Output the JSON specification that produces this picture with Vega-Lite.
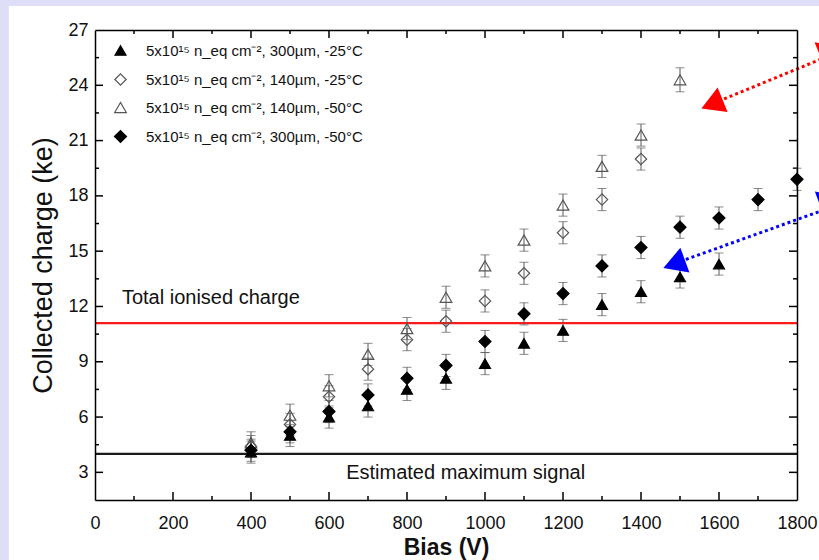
{
  "$schema": "https://vega.github.io/schema/vega-lite/v6.json",
  "width": 702,
  "height": 470,
  "autosize": {"type": "none"},
  "padding": {"left": 95, "top": 30, "right": 22, "bottom": 60},
  "background": "#DEDEF9",
  "config": {
    "view": {"stroke": null},
    "axis": {
      "grid": false,
      "domainColor": "#000000",
      "domainWidth": 1.5,
      "labelFont": "Liberation Sans",
      "labelFontSize": 18,
      "labelColor": "#111111",
      "titleFont": "Liberation Sans",
      "titleColor": "#111111"
    },
    "legend": {
      "orient": "none",
      "legendX": 18,
      "legendY": 13,
      "padding": 0,
      "labelFont": "Liberation Sans",
      "labelFontSize": 15,
      "labelColor": "#111111",
      "labelOffset": 18,
      "labelLimit": 500,
      "rowPadding": 12,
      "symbolStrokeWidth": 1.2
    }
  },
  "resolve": {"axis": {"x": "independent", "y": "independent"}},
  "layer": [
    {
      "data": {"values": [{"x1": -221, "x2": 2300, "y1": 28.3, "y2": -10}]},
      "mark": {"type": "rect", "fill": "#FFFFFF", "clip": false},
      "encoding": {
        "x": {"field": "x1", "type": "quantitative", "scale": {"domain": [0, 1800], "nice": false, "zero": false},
          "axis": {"orient": "bottom", "zindex": 2, "values": [0,200,400,600,800,1000,1200,1400,1600,1800],
            "format": "d", "ticks": false, "tickSize": 0,
            "labelPadding": 14, "labelOverlap": false, "labelFlush": false, "labelBound": false,
            "title": "Bias (V)", "titleFontSize": 23, "titleFontWeight": "bold", "titlePadding": 4}},
        "x2": {"field": "x2"},
        "y": {"field": "y1", "type": "quantitative", "scale": {"domain": [1.5, 27], "nice": false, "zero": false},
          "axis": {"orient": "left", "zindex": 2, "values": [3,6,9,12,15,18,21,24,27],
            "format": "d", "ticks": false, "tickSize": 0,
            "labelPadding": 7, "labelOverlap": false, "labelFlush": false, "labelBound": false,
            "title": "Collected charge (ke)", "titleFontSize": 27, "titleFontWeight": "normal", "titlePadding": 10}},
        "y2": {"field": "y2"}
      }
    },
    {
      "data": {"values": [{"x1": 0, "y1": 1.5}]},
      "mark": {"type": "point", "opacity": 0},
      "encoding": {
        "x": {"field": "x1", "type": "quantitative", "scale": {"domain": [0, 1800], "nice": false, "zero": false},
          "axis": {"orient": "top", "zindex": 2, "values": [0], "labels": false, "title": null, "ticks": false}},
        "y": {"field": "y1", "type": "quantitative", "scale": {"domain": [1.5, 27], "nice": false, "zero": false},
          "axis": {"orient": "right", "zindex": 2, "values": [3], "labels": false, "title": null, "ticks": false}}
      }
    },
    {
      "data": {"name": "xmaj"},
      "mark": {"type": "tick", "orient": "vertical", "color": "#000000", "size": 8, "thickness": 1.5, "opacity": 1},
      "encoding": {
        "x": {"field": "v", "type": "quantitative", "scale": {"domain": [0, 1800], "nice": false, "zero": false}, "axis": null},
        "y": {"datum": 1.717, "type": "quantitative", "scale": {"domain": [1.5, 27], "nice": false, "zero": false}, "axis": null}
      }
    },
    {
      "data": {"name": "xmin"},
      "mark": {"type": "tick", "orient": "vertical", "color": "#000000", "size": 4, "thickness": 1.5, "opacity": 1},
      "encoding": {
        "x": {"field": "v", "type": "quantitative", "scale": {"domain": [0, 1800], "nice": false, "zero": false}, "axis": null},
        "y": {"datum": 1.609, "type": "quantitative", "scale": {"domain": [1.5, 27], "nice": false, "zero": false}, "axis": null}
      }
    },
    {
      "data": {"name": "xmaj"},
      "mark": {"type": "tick", "orient": "vertical", "color": "#000000", "size": 8, "thickness": 1.5, "opacity": 1},
      "encoding": {
        "x": {"field": "v", "type": "quantitative", "scale": {"domain": [0, 1800], "nice": false, "zero": false}, "axis": null},
        "y": {"datum": 26.783, "type": "quantitative", "scale": {"domain": [1.5, 27], "nice": false, "zero": false}, "axis": null}
      }
    },
    {
      "data": {"name": "xmin"},
      "mark": {"type": "tick", "orient": "vertical", "color": "#000000", "size": 4, "thickness": 1.5, "opacity": 1},
      "encoding": {
        "x": {"field": "v", "type": "quantitative", "scale": {"domain": [0, 1800], "nice": false, "zero": false}, "axis": null},
        "y": {"datum": 26.891, "type": "quantitative", "scale": {"domain": [1.5, 27], "nice": false, "zero": false}, "axis": null}
      }
    },
    {
      "data": {"name": "ymaj"},
      "mark": {"type": "tick", "orient": "horizontal", "color": "#000000", "size": 8, "thickness": 1.5, "opacity": 1},
      "encoding": {
        "y": {"field": "v", "type": "quantitative", "scale": {"domain": [1.5, 27], "nice": false, "zero": false}, "axis": null},
        "x": {"datum": 10.26, "type": "quantitative", "scale": {"domain": [0, 1800], "nice": false, "zero": false}, "axis": null}
      }
    },
    {
      "data": {"name": "ymin"},
      "mark": {"type": "tick", "orient": "horizontal", "color": "#000000", "size": 4, "thickness": 1.5, "opacity": 1},
      "encoding": {
        "y": {"field": "v", "type": "quantitative", "scale": {"domain": [1.5, 27], "nice": false, "zero": false}, "axis": null},
        "x": {"datum": 5.13, "type": "quantitative", "scale": {"domain": [0, 1800], "nice": false, "zero": false}, "axis": null}
      }
    },
    {
      "data": {"name": "ymaj"},
      "mark": {"type": "tick", "orient": "horizontal", "color": "#000000", "size": 8, "thickness": 1.5, "opacity": 1},
      "encoding": {
        "y": {"field": "v", "type": "quantitative", "scale": {"domain": [1.5, 27], "nice": false, "zero": false}, "axis": null},
        "x": {"datum": 1789.74, "type": "quantitative", "scale": {"domain": [0, 1800], "nice": false, "zero": false}, "axis": null}
      }
    },
    {
      "data": {"name": "ymin"},
      "mark": {"type": "tick", "orient": "horizontal", "color": "#000000", "size": 4, "thickness": 1.5, "opacity": 1},
      "encoding": {
        "y": {"field": "v", "type": "quantitative", "scale": {"domain": [1.5, 27], "nice": false, "zero": false}, "axis": null},
        "x": {"datum": 1794.87, "type": "quantitative", "scale": {"domain": [0, 1800], "nice": false, "zero": false}, "axis": null}
      }
    },
    {
      "data": {"values": [{"level": 11.1}]},
      "mark": {"type": "rule", "color": "#FF1A1A", "strokeWidth": 2.2},
      "encoding": {"y": {"field": "level", "type": "quantitative", "scale": {"domain": [1.5, 27], "nice": false, "zero": false}, "axis": null}}
    },
    {
      "data": {"values": [{"level": 4.0}]},
      "mark": {"type": "rule", "color": "#1A1A1A", "strokeWidth": 2.2},
      "encoding": {"y": {"field": "level", "type": "quantitative", "scale": {"domain": [1.5, 27], "nice": false, "zero": false}, "axis": null}}
    },
    {
      "data": {"values": [{"label": "Total ionised charge", "x": 69, "y": 12.46}, {"label": "Estimated maximum signal", "x": 644, "y": 2.96}]},
      "mark": {"type": "text", "align": "left", "baseline": "middle", "font": "Liberation Sans", "fontSize": 20, "color": "#111111"},
      "encoding": {
        "x": {"field": "x", "type": "quantitative", "scale": {"domain": [0, 1800], "nice": false, "zero": false}, "axis": null},
        "y": {"field": "y", "type": "quantitative", "scale": {"domain": [1.5, 27], "nice": false, "zero": false}, "axis": null},
        "text": {"field": "label"}
      }
    },
    {
      "data": {"name": "pts"},
      "mark": {"type": "errorbar", "color": "#5A5A5A", "thickness": 1, "ticks": {"size": 9, "thickness": 1, "color": "#5A5A5A"}},
      "encoding": {
        "x": {"field": "bias", "type": "quantitative", "scale": {"domain": [0, 1800], "nice": false, "zero": false}, "axis": null},
        "y": {"field": "charge", "type": "quantitative", "scale": {"domain": [1.5, 27], "nice": false, "zero": false}, "axis": null},
        "yError": {"field": "err"},
        "detail": {"field": "series"}
      }
    },
    {
      "data": {"name": "pts"},
      "mark": {"type": "point", "strokeWidth": 1.2, "opacity": 1},
      "encoding": {
        "x": {"field": "bias", "type": "quantitative", "scale": {"domain": [0, 1800], "nice": false, "zero": false}, "axis": null},
        "y": {"field": "charge", "type": "quantitative", "scale": {"domain": [1.5, 27], "nice": false, "zero": false}, "axis": null},
        "shape": {"field": "series", "type": "nominal", "title": null,
          "scale": {"domain": ["5x10¹⁵ n_eq cm⁻², 300µm, -25°C", "5x10¹⁵ n_eq cm⁻², 140µm, -25°C", "5x10¹⁵ n_eq cm⁻², 140µm, -50°C", "5x10¹⁵ n_eq cm⁻², 300µm, -50°C"],
            "range": ["triangle-up", "diamond", "triangle-up", "diamond"]}},
        "fill": {"field": "series", "type": "nominal", "title": null,
          "scale": {"domain": ["5x10¹⁵ n_eq cm⁻², 300µm, -25°C", "5x10¹⁵ n_eq cm⁻², 140µm, -25°C", "5x10¹⁵ n_eq cm⁻², 140µm, -50°C", "5x10¹⁵ n_eq cm⁻², 300µm, -50°C"],
            "range": ["#000000", "transparent", "transparent", "#000000"]}},
        "stroke": {"field": "series", "type": "nominal", "title": null,
          "scale": {"domain": ["5x10¹⁵ n_eq cm⁻², 300µm, -25°C", "5x10¹⁵ n_eq cm⁻², 140µm, -25°C", "5x10¹⁵ n_eq cm⁻², 140µm, -50°C", "5x10¹⁵ n_eq cm⁻², 300µm, -50°C"],
            "range": ["#000000", "#555555", "#555555", "#000000"]}},
        "size": {"field": "series", "type": "nominal", "title": null,
          "scale": {"domain": ["5x10¹⁵ n_eq cm⁻², 300µm, -25°C", "5x10¹⁵ n_eq cm⁻², 140µm, -25°C", "5x10¹⁵ n_eq cm⁻², 140µm, -50°C", "5x10¹⁵ n_eq cm⁻², 300µm, -50°C"],
            "range": [120, 144, 120, 144]}}
      }
    },
    {
      "data": {"values": [{"x": 1910, "y": 25.84}, {"x": 1613, "y": 23.26}]},
      "mark": {"type": "line", "color": "#FF0000", "strokeWidth": 3, "strokeDash": [3, 3], "clip": false},
      "encoding": {
        "x": {"field": "x", "type": "quantitative", "scale": {"domain": [0, 1800], "nice": false, "zero": false}, "axis": null},
        "y": {"field": "y", "type": "quantitative", "scale": {"domain": [1.5, 27], "nice": false, "zero": false}, "axis": null}
      }
    },
    {
      "data": {"values": [{"x": 1582, "y": 22.98}]},
      "mark": {"type": "point", "shape": "triangle-up", "filled": true, "color": "#FF0000", "opacity": 1, "size": 700, "angle": 248, "clip": false},
      "encoding": {
        "x": {"field": "x", "type": "quantitative", "scale": {"domain": [0, 1800], "nice": false, "zero": false}, "axis": null},
        "y": {"field": "y", "type": "quantitative", "scale": {"domain": [1.5, 27], "nice": false, "zero": false}, "axis": null}
      }
    },
    {
      "data": {"values": [{"x": 1885, "y": 25.9}]},
      "mark": {"type": "point", "shape": "triangle-up", "filled": true, "color": "#FF0000", "opacity": 1, "size": 700, "angle": 68, "clip": false},
      "encoding": {
        "x": {"field": "x", "type": "quantitative", "scale": {"domain": [0, 1800], "nice": false, "zero": false}, "axis": null},
        "y": {"field": "y", "type": "quantitative", "scale": {"domain": [1.5, 27], "nice": false, "zero": false}, "axis": null}
      }
    },
    {
      "data": {"values": [{"x": 1910, "y": 17.55}, {"x": 1515, "y": 14.55}]},
      "mark": {"type": "line", "color": "#0000FF", "strokeWidth": 3, "strokeDash": [3, 3], "clip": false},
      "encoding": {
        "x": {"field": "x", "type": "quantitative", "scale": {"domain": [0, 1800], "nice": false, "zero": false}, "axis": null},
        "y": {"field": "y", "type": "quantitative", "scale": {"domain": [1.5, 27], "nice": false, "zero": false}, "axis": null}
      }
    },
    {
      "data": {"values": [{"x": 1485, "y": 14.3}]},
      "mark": {"type": "point", "shape": "triangle-up", "filled": true, "color": "#0000FF", "opacity": 1, "size": 700, "angle": 250, "clip": false},
      "encoding": {
        "x": {"field": "x", "type": "quantitative", "scale": {"domain": [0, 1800], "nice": false, "zero": false}, "axis": null},
        "y": {"field": "y", "type": "quantitative", "scale": {"domain": [1.5, 27], "nice": false, "zero": false}, "axis": null}
      }
    },
    {
      "data": {"values": [{"x": 1885, "y": 17.78}]},
      "mark": {"type": "point", "shape": "triangle-up", "filled": true, "color": "#0000FF", "opacity": 1, "size": 700, "angle": 70, "clip": false},
      "encoding": {
        "x": {"field": "x", "type": "quantitative", "scale": {"domain": [0, 1800], "nice": false, "zero": false}, "axis": null},
        "y": {"field": "y", "type": "quantitative", "scale": {"domain": [1.5, 27], "nice": false, "zero": false}, "axis": null}
      }
    }
  ],
  "datasets": {
    "xmaj": [{"v": 200}, {"v": 400}, {"v": 600}, {"v": 800}, {"v": 1000}, {"v": 1200}, {"v": 1400}, {"v": 1600}],
    "xmin": [{"v": 100}, {"v": 300}, {"v": 500}, {"v": 700}, {"v": 900}, {"v": 1100}, {"v": 1300}, {"v": 1500}, {"v": 1700}],
    "ymaj": [{"v": 3}, {"v": 6}, {"v": 9}, {"v": 12}, {"v": 15}, {"v": 18}, {"v": 21}, {"v": 24}],
    "ymin": [{"v": 4.5}, {"v": 7.5}, {"v": 10.5}, {"v": 13.5}, {"v": 16.5}, {"v": 19.5}, {"v": 22.5}, {"v": 25.5}],
    "pts": [
      {"series": "5x10¹⁵ n_eq cm⁻², 300µm, -25°C", "bias": 400, "charge": 4.1, "err": 0.6},
      {"series": "5x10¹⁵ n_eq cm⁻², 300µm, -25°C", "bias": 500, "charge": 5.0, "err": 0.6},
      {"series": "5x10¹⁵ n_eq cm⁻², 300µm, -25°C", "bias": 600, "charge": 6.0, "err": 0.6},
      {"series": "5x10¹⁵ n_eq cm⁻², 300µm, -25°C", "bias": 700, "charge": 6.6, "err": 0.6},
      {"series": "5x10¹⁵ n_eq cm⁻², 300µm, -25°C", "bias": 800, "charge": 7.5, "err": 0.6},
      {"series": "5x10¹⁵ n_eq cm⁻², 300µm, -25°C", "bias": 900, "charge": 8.1, "err": 0.6},
      {"series": "5x10¹⁵ n_eq cm⁻², 300µm, -25°C", "bias": 1000, "charge": 8.9, "err": 0.6},
      {"series": "5x10¹⁵ n_eq cm⁻², 300µm, -25°C", "bias": 1100, "charge": 10.0, "err": 0.6},
      {"series": "5x10¹⁵ n_eq cm⁻², 300µm, -25°C", "bias": 1200, "charge": 10.7, "err": 0.6},
      {"series": "5x10¹⁵ n_eq cm⁻², 300µm, -25°C", "bias": 1300, "charge": 12.1, "err": 0.6},
      {"series": "5x10¹⁵ n_eq cm⁻², 300µm, -25°C", "bias": 1400, "charge": 12.8, "err": 0.6},
      {"series": "5x10¹⁵ n_eq cm⁻², 300µm, -25°C", "bias": 1500, "charge": 13.6, "err": 0.6},
      {"series": "5x10¹⁵ n_eq cm⁻², 300µm, -25°C", "bias": 1600, "charge": 14.3, "err": 0.6},
      {"series": "5x10¹⁵ n_eq cm⁻², 140µm, -25°C", "bias": 400, "charge": 4.4, "err": 0.6},
      {"series": "5x10¹⁵ n_eq cm⁻², 140µm, -25°C", "bias": 500, "charge": 5.6, "err": 0.6},
      {"series": "5x10¹⁵ n_eq cm⁻², 140µm, -25°C", "bias": 600, "charge": 7.1, "err": 0.6},
      {"series": "5x10¹⁵ n_eq cm⁻², 140µm, -25°C", "bias": 700, "charge": 8.6, "err": 0.6},
      {"series": "5x10¹⁵ n_eq cm⁻², 140µm, -25°C", "bias": 800, "charge": 10.2, "err": 0.6},
      {"series": "5x10¹⁵ n_eq cm⁻², 140µm, -25°C", "bias": 900, "charge": 11.2, "err": 0.6},
      {"series": "5x10¹⁵ n_eq cm⁻², 140µm, -25°C", "bias": 1000, "charge": 12.3, "err": 0.6},
      {"series": "5x10¹⁵ n_eq cm⁻², 140µm, -25°C", "bias": 1100, "charge": 13.8, "err": 0.6},
      {"series": "5x10¹⁵ n_eq cm⁻², 140µm, -25°C", "bias": 1200, "charge": 16.0, "err": 0.6},
      {"series": "5x10¹⁵ n_eq cm⁻², 140µm, -25°C", "bias": 1300, "charge": 17.8, "err": 0.6},
      {"series": "5x10¹⁵ n_eq cm⁻², 140µm, -25°C", "bias": 1400, "charge": 20.0, "err": 0.6},
      {"series": "5x10¹⁵ n_eq cm⁻², 140µm, -50°C", "bias": 400, "charge": 4.6, "err": 0.6},
      {"series": "5x10¹⁵ n_eq cm⁻², 140µm, -50°C", "bias": 500, "charge": 6.1, "err": 0.6},
      {"series": "5x10¹⁵ n_eq cm⁻², 140µm, -50°C", "bias": 600, "charge": 7.7, "err": 0.6},
      {"series": "5x10¹⁵ n_eq cm⁻², 140µm, -50°C", "bias": 700, "charge": 9.4, "err": 0.6},
      {"series": "5x10¹⁵ n_eq cm⁻², 140µm, -50°C", "bias": 800, "charge": 10.8, "err": 0.6},
      {"series": "5x10¹⁵ n_eq cm⁻², 140µm, -50°C", "bias": 900, "charge": 12.5, "err": 0.6},
      {"series": "5x10¹⁵ n_eq cm⁻², 140µm, -50°C", "bias": 1000, "charge": 14.2, "err": 0.6},
      {"series": "5x10¹⁵ n_eq cm⁻², 140µm, -50°C", "bias": 1100, "charge": 15.6, "err": 0.6},
      {"series": "5x10¹⁵ n_eq cm⁻², 140µm, -50°C", "bias": 1200, "charge": 17.5, "err": 0.6},
      {"series": "5x10¹⁵ n_eq cm⁻², 140µm, -50°C", "bias": 1300, "charge": 19.6, "err": 0.6},
      {"series": "5x10¹⁵ n_eq cm⁻², 140µm, -50°C", "bias": 1400, "charge": 21.3, "err": 0.6},
      {"series": "5x10¹⁵ n_eq cm⁻², 140µm, -50°C", "bias": 1500, "charge": 24.3, "err": 0.65},
      {"series": "5x10¹⁵ n_eq cm⁻², 300µm, -50°C", "bias": 400, "charge": 4.2, "err": 0.6},
      {"series": "5x10¹⁵ n_eq cm⁻², 300µm, -50°C", "bias": 500, "charge": 5.2, "err": 0.6},
      {"series": "5x10¹⁵ n_eq cm⁻², 300µm, -50°C", "bias": 600, "charge": 6.3, "err": 0.6},
      {"series": "5x10¹⁵ n_eq cm⁻², 300µm, -50°C", "bias": 700, "charge": 7.2, "err": 0.6},
      {"series": "5x10¹⁵ n_eq cm⁻², 300µm, -50°C", "bias": 800, "charge": 8.1, "err": 0.6},
      {"series": "5x10¹⁵ n_eq cm⁻², 300µm, -50°C", "bias": 900, "charge": 8.8, "err": 0.6},
      {"series": "5x10¹⁵ n_eq cm⁻², 300µm, -50°C", "bias": 1000, "charge": 10.1, "err": 0.6},
      {"series": "5x10¹⁵ n_eq cm⁻², 300µm, -50°C", "bias": 1100, "charge": 11.6, "err": 0.6},
      {"series": "5x10¹⁵ n_eq cm⁻², 300µm, -50°C", "bias": 1200, "charge": 12.7, "err": 0.6},
      {"series": "5x10¹⁵ n_eq cm⁻², 300µm, -50°C", "bias": 1300, "charge": 14.2, "err": 0.6},
      {"series": "5x10¹⁵ n_eq cm⁻², 300µm, -50°C", "bias": 1400, "charge": 15.2, "err": 0.6},
      {"series": "5x10¹⁵ n_eq cm⁻², 300µm, -50°C", "bias": 1500, "charge": 16.3, "err": 0.6},
      {"series": "5x10¹⁵ n_eq cm⁻², 300µm, -50°C", "bias": 1600, "charge": 16.8, "err": 0.6},
      {"series": "5x10¹⁵ n_eq cm⁻², 300µm, -50°C", "bias": 1700, "charge": 17.8, "err": 0.6},
      {"series": "5x10¹⁵ n_eq cm⁻², 300µm, -50°C", "bias": 1800, "charge": 18.9, "err": 0.6}
    ]
  }
}
